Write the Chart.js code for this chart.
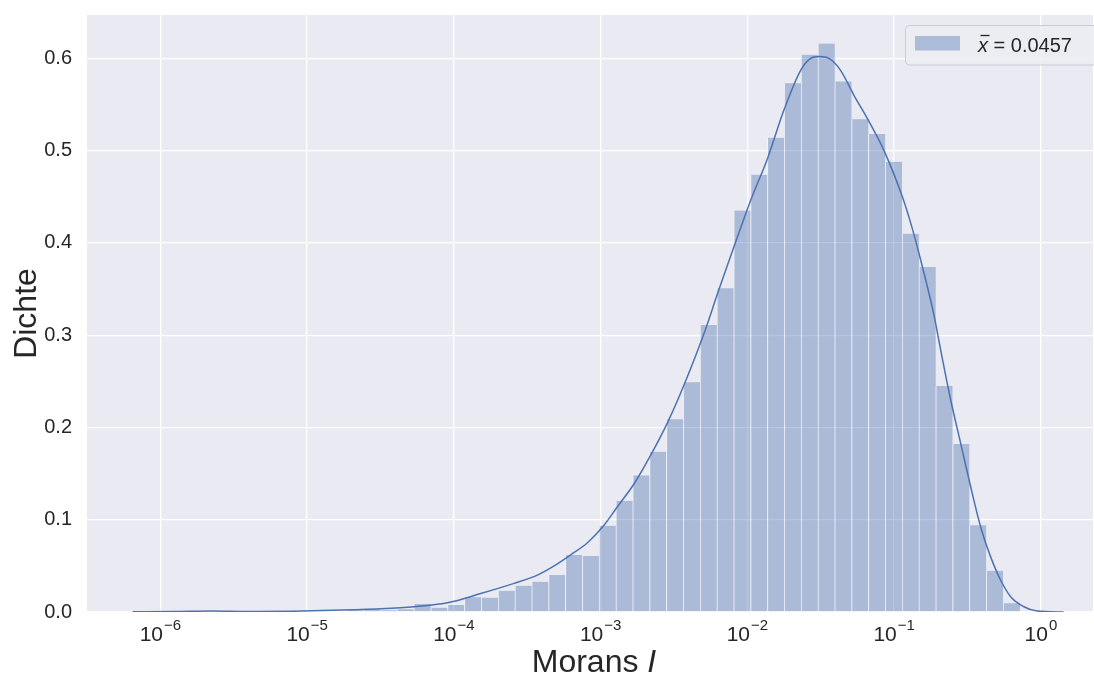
<!DOCTYPE html>
<html>
<head>
<meta charset="utf-8">
<script src="https://cdn.jsdelivr.net/npm/chart.js@4.4.0/dist/chart.umd.min.js"></script>
<style>
  html, body { margin: 0; padding: 0; background: #fff; }
  #wrap { width: 1094px; height: 675px; }
</style>
</head>
<body>
<div id="wrap"><canvas id="chart" width="1094" height="675"></canvas></div>
<script>
// histogram of log10(Moran's I), density
const binStart = -4.7316;   // log10 of first bin edge
const binWidth = 0.11471;   // bin width in decades
const binHeights = [0.002, 0.003, 0.002, 0.003, 0.0087, 0.0047, 0.0076, 0.0159, 0.0155, 0.023,
  0.0285, 0.0329, 0.040, 0.0617, 0.0607, 0.0935, 0.1206, 0.148, 0.1736, 0.209,
  0.249, 0.311, 0.351, 0.435, 0.474, 0.514, 0.573, 0.604, 0.616, 0.575,
  0.534, 0.518, 0.488, 0.41, 0.374, 0.245, 0.182, 0.094, 0.0447, 0.0094];

// kde curve
const kdeX = [-6.19, -5.9, -5.65, -5.4, -5.1, -4.9, -4.7, -4.5, -4.271, -4.044, -3.817, -3.590, -3.431,
  -3.317, -3.204, -3.090, -2.977, -2.886, -2.772, -2.659, -2.545, -2.432, -2.284, -2.204, -2.091,
  -1.978, -1.864, -1.751, -1.637, -1.569, -1.512, -1.444, -1.365, -1.274, -1.183, -1.069, -0.944,
  -0.888, -0.820, -0.729, -0.683, -0.615, -0.547, -0.479, -0.411, -0.343, -0.275, -0.206, -0.116,
  -0.025, 0.155];
const kdeY = [0.0003, 0.0006, 0.0012, 0.0006, 0.0008, 0.0015, 0.0025, 0.0035, 0.0057, 0.010, 0.020,
  0.031, 0.040, 0.050, 0.062, 0.075, 0.094, 0.114, 0.139, 0.170, 0.205, 0.246, 0.307, 0.345,
  0.396, 0.446, 0.491, 0.544, 0.587, 0.600, 0.602, 0.600, 0.587, 0.560, 0.535, 0.500, 0.450,
  0.422, 0.382, 0.322, 0.284, 0.230, 0.183, 0.136, 0.0924, 0.060, 0.0347, 0.0166, 0.0057,
  0.001, 0.0];

const xTickPowers = [-6, -5, -4, -3, -2, -1, 0];
const yTicks = [0.0, 0.1, 0.2, 0.3, 0.4, 0.5, 0.6];
const legendLabel = 'x\u0304 = 0.0457';
const meanText = ' = 0.0457';

const textColor = '#262626';
const blue = '#4C72B0';
const fontName = '"Liberation Sans", Arial, sans-serif';

const bgPlugin = {
  id: 'bg',
  beforeDraw(chart) {
    const { ctx, chartArea: a } = chart;
    ctx.save();
    ctx.fillStyle = '#EAEAF2';
    ctx.fillRect(a.left, a.top, a.right - a.left, a.bottom - a.top);
    ctx.restore();
  }
};

function roundRect(ctx, x, y, w, h, r) {
  ctx.beginPath();
  ctx.moveTo(x + r, y);
  ctx.lineTo(x + w - r, y);
  ctx.arcTo(x + w, y, x + w, y + r, r);
  ctx.lineTo(x + w, y + h - r);
  ctx.arcTo(x + w, y + h, x + w - r, y + h, r);
  ctx.lineTo(x + r, y + h);
  ctx.arcTo(x, y + h, x, y + h - r, r);
  ctx.lineTo(x, y + r);
  ctx.arcTo(x, y, x + r, y, r);
  ctx.closePath();
}

const labelsPlugin = {
  id: 'labels',
  afterDraw(chart) {
    const ctx = chart.ctx;
    const sx = chart.scales.x;
    const a = chart.chartArea;
    ctx.save();
    ctx.fillStyle = textColor;
    ctx.textBaseline = 'alphabetic';
    ctx.textAlign = 'left';

    // x tick labels 10^n
    xTickPowers.forEach(p => {
      const x = sx.getPixelForValue(p);
      const sup = p < 0 ? '\u2212' + (-p) : String(p);
      ctx.font = '21px ' + fontName;
      const w1 = ctx.measureText('10').width;
      ctx.font = '15px ' + fontName;
      const w2 = ctx.measureText(sup).width;
      const x0 = x - (w1 + w2 + 1) / 2;
      ctx.font = '21px ' + fontName;
      ctx.fillText('10', x0, 641);
      ctx.font = '15px ' + fontName;
      ctx.fillText(sup, x0 + w1 + 1, 630);
    });

    // x axis title
    ctx.font = '32px ' + fontName;
    const t1 = 'Morans ';
    const wa = ctx.measureText(t1).width;
    ctx.font = 'italic 32px ' + fontName;
    const wb = ctx.measureText('I').width;
    const cx = (a.left + a.right) / 2 + 4;
    const tx = cx - (wa + wb) / 2;
    ctx.font = '32px ' + fontName;
    ctx.fillText(t1, tx, 672);
    ctx.font = 'italic 32px ' + fontName;
    ctx.fillText('I', tx + wa, 672);

    // legend
    const lx = 905.5, ly = 25.5, lw = 200, lh = 39.5;
    roundRect(ctx, lx, ly, lw, lh, 4);
    ctx.fillStyle = 'rgba(236,236,243,0.85)';
    ctx.fill();
    ctx.strokeStyle = 'rgba(200,200,208,0.9)';
    ctx.lineWidth = 1;
    ctx.stroke();
    ctx.fillStyle = 'rgba(76,114,176,0.4)';
    ctx.fillRect(915, 36, 45, 14.5);
    ctx.fillStyle = textColor;
    ctx.font = 'italic 20px ' + fontName;
    ctx.fillText('x', 978, 52);
    const wx = ctx.measureText('x').width;
    // macron over x
    ctx.strokeStyle = textColor;
    ctx.lineWidth = 1.3;
    ctx.beginPath();
    ctx.moveTo(980.5, 35.5);
    ctx.lineTo(980.5 + wx - 1, 35.5);
    ctx.stroke();
    ctx.font = '20px ' + fontName;
    ctx.fillText(meanText, 978 + wx, 52);
    ctx.restore();
  }
};

const barData = binHeights.map((h, i) => ({ x: binStart + (i + 0.5) * binWidth, y: h }));
const kdeData = kdeX.map((x, i) => ({ x: x, y: kdeY[i] }));

const chart = new Chart(document.getElementById('chart'), {
  type: 'bar',
  data: {
    datasets: [
      {
        type: 'line',
        label: 'kde',
        data: kdeData,
        borderColor: blue,
        borderWidth: 1.5,
        pointRadius: 0,
        fill: false,
        cubicInterpolationMode: 'monotone',
        order: 0
      },
      {
        type: 'bar',
        label: legendLabel,
        data: barData,
        backgroundColor: 'rgba(76,114,176,0.4)',
        borderColor: 'rgba(255,255,255,0.45)',
        borderWidth: { left: 1, right: 0, top: 0, bottom: 0 },
        borderSkipped: false,
        categoryPercentage: 1.0,
        barPercentage: 1.0,
        order: 1
      }
    ]
  },
  options: {
    responsive: false,
    animation: false,
    layout: { padding: { top: 15, right: 1, left: 0, bottom: 0 } },
    plugins: {
      legend: { display: false },
      tooltip: { enabled: false }
    },
    scales: {
      x: {
        type: 'linear',
        offset: false,
        min: -6.5,
        max: 0.355,
        afterBuildTicks: (scale) => { scale.ticks = xTickPowers.map(v => ({ value: v })); },
        afterFit: (scale) => { scale.height = 63; scale.paddingLeft = 0; scale.paddingRight = 0; },
        grid: { color: '#ffffff', lineWidth: 1.3, drawTicks: false, offset: false },
        border: { display: false },
        ticks: { display: false }
      },
      y: {
        min: 0,
        max: 0.647,
        afterBuildTicks: (scale) => { scale.ticks = yTicks.map(v => ({ value: v })); },
        afterFit: (scale) => { scale.width = 87; scale.paddingTop = 0; scale.paddingBottom = 0; },
        grid: { color: '#ffffff', lineWidth: 1.3, drawTicks: false },
        border: { display: false },
        ticks: {
          color: textColor,
          font: { family: fontName, size: 20 },
          padding: 15,
          callback: (v) => Number(v).toFixed(1)
        },
        title: {
          display: true,
          text: 'Dichte',
          color: textColor,
          font: { family: fontName, size: 32 },
          padding: { top: 8, bottom: 0 }
        }
      }
    }
  },
  plugins: [bgPlugin, labelsPlugin]
});
</script>
</body>
</html>
